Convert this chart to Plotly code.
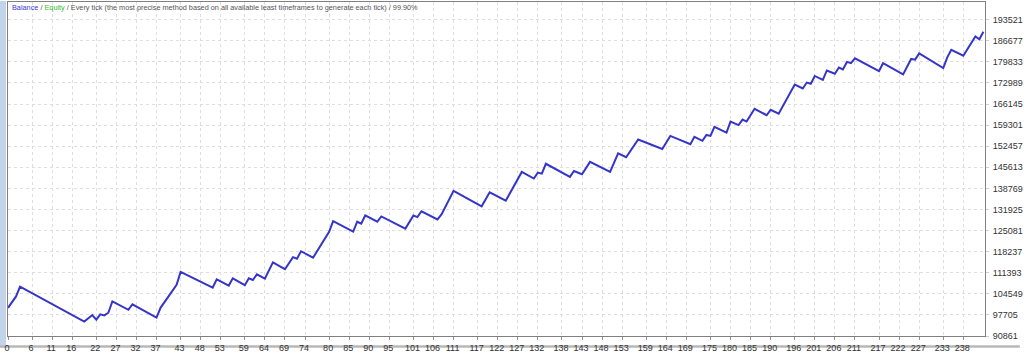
import plotly.graph_objects as go

# Balance curve turning points (trade number, balance)
trades = [0, 2, 3, 19, 21, 22, 23, 24, 25, 26, 30, 31, 37, 38, 42, 43,
          51, 52, 55, 56, 59, 60, 61, 62, 64, 66, 69, 71, 72, 73, 76, 80, 81,
          86, 87, 88, 89, 92, 93, 99, 101, 102, 103, 107, 108, 111, 118, 120,
          124, 128, 131, 132, 133, 134, 140, 141, 143, 145, 150, 152, 154, 157,
          163, 165, 170, 171, 173, 174, 175, 176, 179, 180, 182, 183, 184, 186,
          189, 190, 192, 196, 198, 199, 200, 201, 203, 204, 206, 207, 208, 209,
          210, 211, 217, 218, 223, 225, 226, 227, 233, 234, 235, 238, 241, 242, 243]
balance = [100000, 103700, 106900, 95550, 97650, 96190, 97880, 97560, 98420, 102120,
           99370, 101160, 96820, 100010, 107440, 111680,
           106580, 109260, 107220, 109580, 107340, 109580, 109030, 110850, 109450, 114770,
           112540, 116460, 115950, 118370, 116270, 124650, 128160,
           124750, 127940, 127300, 129980, 127940, 129660, 125710, 129980, 129440, 131350,
           128700, 130300, 137950, 132940, 137500,
           134760, 144100, 141970, 143880, 143560, 146750, 142510, 144420, 143370, 147380,
           144100, 150160, 148880, 154620,
           151530, 155800, 153120, 155480, 154210, 156120, 155800, 158770, 156850, 160460,
           159310, 161090, 160460, 164600,
           162500, 164280, 163010, 172470, 171200, 173110, 172700, 175250, 173970, 177030,
           175980, 177990, 177350, 179810,
           179390, 180990, 176840, 179390, 175760, 180760, 180540, 182580, 177800, 181310,
           183730, 181820, 188100, 187140, 189590]

x_ticks = [0, 6, 11, 16, 22, 27, 32, 37, 43, 48, 53, 59, 64, 69, 74, 80, 85, 90, 95,
           101, 106, 111, 117, 122, 127, 132, 138, 143, 148, 153, 159, 164, 169, 175,
           180, 185, 190, 196, 201, 206, 211, 217, 222, 227, 233, 238]
y_ticks = [90861, 97705, 104549, 111393, 118237, 125081, 131925, 138769, 145613,
           152457, 159301, 166145, 172989, 179833, 186677, 193521]

W, H = 1024, 354
ml, mr, mt, mb = 8, 35, 1, 12
pw = W - ml - mr
ph = H - mt - mb

fig = go.Figure()
fig.add_trace(go.Scatter(x=trades, y=balance, mode="lines",
                         line=dict(color="#3535c8", width=2), hoverinfo="skip"))

font = dict(family="Liberation Sans, Arial, sans-serif", size=9, color="#333333")

fig.update_layout(
    width=W, height=H,
    margin=dict(l=ml, r=mr, t=mt, b=mb, pad=0),
    paper_bgcolor="white", plot_bgcolor="white",
    showlegend=False,
    xaxis=dict(range=[0, 243.4], tickmode="array", tickvals=x_ticks,
               ticktext=[str(v) for v in x_ticks],
               showgrid=True, gridcolor="#dedede", griddash="dot", gridwidth=1,
               ticks="outside", ticklen=3, tickcolor="#909090",
               tickfont=font, ticklabelshift=-1, ticklabelstandoff=0,
               showline=True, linecolor="#808080", linewidth=1, mirror=True,
               zeroline=False, fixedrange=True),
    yaxis=dict(range=[90861, 90861 + 340 * 318.8], side="right", tickmode="array",
               tickvals=y_ticks, ticktext=[str(v) for v in y_ticks],
               showgrid=True, gridcolor="#dedede", griddash="dot", gridwidth=1,
               ticks="outside", ticklen=3, tickcolor="#d0d0d0",
               tickfont=font, ticklabelstandoff=2,
               showline=True, linecolor="#808080", linewidth=1, mirror=True,
               zeroline=False, fixedrange=True),
)

# legend-like caption at top-left
caption = ("<span style='color:#3a3ad0'>Balance</span>"
           "<span style='color:#555555'> / </span>"
           "<span style='color:#33bb33'>Equity</span>"
           "<span style='color:#555555'> / Every tick (the most precise method based on all "
           "available least timeframes to generate each tick) / 99.90%</span>")
fig.add_annotation(text=caption, xref="paper", yref="paper",
                   x=(10 - ml) / pw, y=(H - mb - 7) / ph, xanchor="left", yanchor="middle",
                   showarrow=False, font=dict(family="Liberation Sans, Arial, sans-serif",
                                              size=7.3, color="#555555"))

# window frame decorations
fig.add_shape(type="rect", xref="paper", yref="paper",
              x0=-ml / pw, x1=(-2) / pw, y0=-mb / ph, y1=(H - mb) / ph,
              fillcolor="#c2d3ea", line=dict(width=0), layer="below")
fig.add_shape(type="rect", xref="paper", yref="paper",
              x0=-ml / pw, x1=(W - ml) / pw, y0=-mb / ph, y1=(-mb + 2.5) / ph,
              fillcolor="#b8b8b8", line=dict(width=0), layer="below")

fig.write_html("out.html")
